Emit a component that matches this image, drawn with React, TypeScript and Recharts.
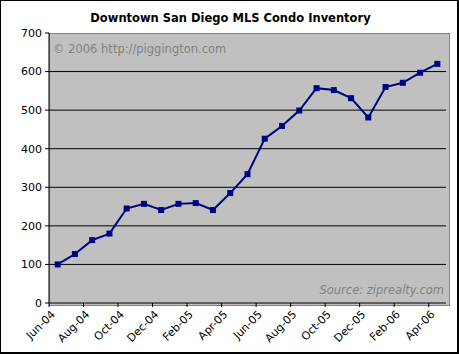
import React from "react";
import { LineChart, Line, XAxis, YAxis, CartesianGrid } from "recharts";

// monthly condo listings, downtown San Diego
const months = [
  "Jun-04", "Jul-04", "Aug-04", "Sep-04", "Oct-04", "Nov-04", "Dec-04",
  "Jan-05", "Feb-05", "Mar-05", "Apr-05", "May-05", "Jun-05", "Jul-05",
  "Aug-05", "Sep-05", "Oct-05", "Nov-05", "Dec-05", "Jan-06", "Feb-06",
  "Mar-06", "Apr-06",
];
const inventory = [
  100, 127, 163, 180, 245, 257, 241, 257, 259, 241, 285, 334, 426, 459,
  499, 557, 552, 531, 481, 560, 571, 597, 620,
];
const yTicks = [0, 100, 200, 300, 400, 500, 600, 700];
const gridValues = [100, 200, 300, 400, 500, 600];

const data = months.map((m, i) => ({ month: m, count: inventory[i] }));

const W = 459;
const H = 354;
const PLOT_L = 49;
const PLOT_R = 447;
const PLOT_T = 33;
const PLOT_B = 303;
const HALF_BAND = (PLOT_R - PLOT_L) / months.length / 2;
const FONT = "'DejaVu Sans', Verdana, sans-serif";

const XTick = (props: any) => {
  const { x, y, payload } = props;
  return (
    <g>
      <line x1={x - HALF_BAND} x2={x - HALF_BAND} y1={y} y2={y + 4} stroke="#000" />
      <text
        transform={`translate(${x - 2},${y + 12}) rotate(-45)`}
        textAnchor="end"
        fontSize={11}
        fontFamily={FONT}
        fill="#000"
      >
        {payload.value}
      </text>
    </g>
  );
};

const SquareDot = (props: any) => {
  const { cx, cy } = props;
  return <rect x={cx - 3} y={cy - 3} width={6} height={6} fill="#000080" />;
};

export default function App() {
  return (
    <div
      style={{
        position: "relative",
        width: W,
        height: H,
        boxSizing: "border-box",
        border: "1px solid #000",
        borderRightWidth: 2,
        borderBottomWidth: 2,
        background: "#fff",
        fontFamily: FONT,
      }}
    >
      <style>{`body{margin:0}`}</style>
      <div
        style={{
          position: "absolute",
          left: PLOT_L - 1,
          top: PLOT_T - 1,
          width: PLOT_R - PLOT_L + 1,
          height: PLOT_B - PLOT_T + 1,
          background: "#c0c0c0",
          border: "1px solid #808080",
        }}
      />
      <div
        style={{
          position: "absolute",
          left: 0,
          top: 10,
          width: W,
          textAlign: "center",
          fontSize: 11.5,
          fontWeight: "bold",
          color: "#000",
        }}
      >
        Downtown San Diego MLS Condo Inventory
      </div>
      <div style={{ position: "absolute", left: 0, top: 0 }}>
        <LineChart
          width={W - 3}
          height={H - 3}
          data={data}
          margin={{ top: PLOT_T - 1, right: W - 1 - PLOT_R, left: 0, bottom: 0 }}
        >
          <CartesianGrid
            vertical={false}
            horizontalValues={gridValues}
            stroke="#000"
            strokeWidth={1}
          />
          <XAxis
            dataKey="month"
            interval={1}
            height={H - 3 - (PLOT_B - 1)}
            padding={{ left: HALF_BAND, right: HALF_BAND }}
            axisLine={{ stroke: "#000" }}
            tickLine={false}
            tickSize={0}
            tickMargin={0}
            tick={<XTick />}
          />
          <YAxis
            width={PLOT_L - 1}
            domain={[0, 700]}
            ticks={yTicks}
            interval={0}
            axisLine={{ stroke: "#000" }}
            tickLine={{ stroke: "#000" }}
            tickSize={4}
            tickMargin={3}
            tick={{ fontSize: 11, fontFamily: FONT, fill: "#000" }}
          />
          <Line
            type="linear"
            dataKey="count"
            stroke="#000080"
            strokeWidth={2}
            dot={<SquareDot />}
            activeDot={false}
            isAnimationActive={false}
          />
        </LineChart>
      </div>
      <div
        style={{
          position: "absolute",
          left: 52,
          top: 41,
          fontSize: 11.5,
          color: "#808080",
        }}
      >
        © 2006 http://piggington.com
      </div>
      <div
        style={{
          position: "absolute",
          right: W - 446,
          top: 282,
          fontSize: 11.5,
          fontStyle: "italic",
          color: "#808080",
        }}
      >
        Source: ziprealty.com
      </div>
    </div>
  );
}
